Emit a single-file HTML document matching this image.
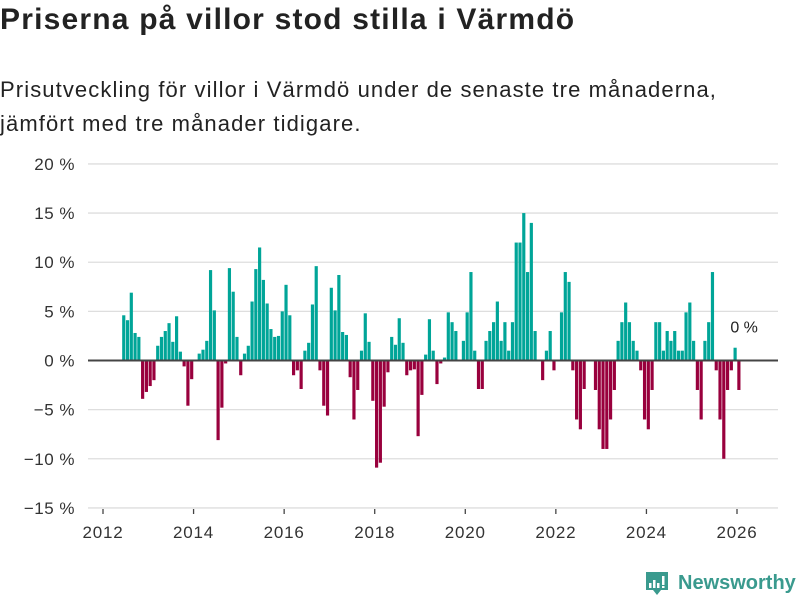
<!DOCTYPE html>
<html><head><meta charset="utf-8">
<style>
body{margin:0;background:#fff;width:800px;height:600px;overflow:hidden;font-family:"Liberation Sans","DejaVu Sans",sans-serif;color:#222}
h1{position:absolute;left:0;top:3px;margin:0;font-size:30px;font-weight:bold;letter-spacing:1.2px}
.sub{position:absolute;left:0;top:73px;margin:0;font-size:22px;line-height:34px;color:#222;letter-spacing:1.1px}
svg{position:absolute;left:0;top:0}
</style></head><body>
<h1>Priserna på villor stod stilla i Värmdö</h1>
<p class="sub">Prisutveckling för villor i Värmdö under de senaste tre månaderna,<br>jämfört med tre månader tidigare.</p>
<svg id="chart" width="800" height="600"></svg>
<script>
const startYear = 2012, startMonth = 5; // June 2012 (0-based month)
const values = [
4.6,4.1,6.9,2.8,2.4,-3.9,-3.2,-2.6,-2.0,1.5,2.4,3.0,3.8,1.9,4.5,0.9,-0.6,-4.6,-1.9,0,0.7,1.1,2.0,9.2,5.1,-8.1,-4.8,-0.3,9.4,7.0,2.4,-1.5,0.7,1.5,6.0,9.3,11.5,8.2,5.8,3.2,2.4,2.5,5.0,
7.7,4.6,-1.5,-1.0,-2.9,1.0,1.8,5.7,9.6,-1.0,-4.6,-5.6,7.4,5.1,8.7,2.9,2.6,-1.7,-6.0,-3.0,1.0,4.8,1.9,-4.1,-10.9,-10.4,-4.7,-1.2,2.4,1.6,4.3,1.8,-1.5,-1.0,-0.9,-7.7,-3.5,0.6,4.2,1.0,-2.4,-0.3,
0.3,4.9,3.9,3.0,0,2.0,4.9,9.0,1.0,-2.9,-2.9,2.0,3.0,3.9,6.0,2.0,3.9,1.0,3.9,12,12,15,9,14,3.0,0,-2.0,1.0,3.0,-1.0,0,4.9,9.0,8.0,-1.0,-6.0,-7.0,-2.9,0,0,
-3.0,-7.0,-9,-9,-6,-3,2,3.9,5.9,3.9,2,1,-1,-6,-7,-3,3.9,3.9,1,3,2,3,1,1,4.9,5.9,2,-3,-6,2,3.9,9,-1,-6,-10,-3,-1,1.3,-3
];
const yTicks = [20,15,10,5,0,-5,-10,-15];
const yTickLabels = ["20 %","15 %","10 %","5 %","0 %","−5 %","−10 %","−15 %"];
const xTicks = [2012,2014,2016,2018,2020,2022,2024,2026];
const annotation = "0 %";

const NS="http://www.w3.org/2000/svg";
const svg=document.getElementById('chart');
const X0=88,X1=778;
function xScale(yr){return 103+(yr-2012)*(737-103)/14;}
function yScale(v){return 360.5-v*(508-164)/35;}
function mk(tag,attrs){const e=document.createElementNS(NS,tag);for(const k in attrs)e.setAttribute(k,attrs[k]);svg.appendChild(e);return e;}

yTicks.forEach((t,i)=>{
  const g=mk('line',{x1:X0,x2:X1,y1:yScale(t),y2:yScale(t),stroke:'#dedede','stroke-width':1.3});
  
  
  const tx=mk('text',{x:75,y:yScale(t)+6,'text-anchor':'end','font-size':17,fill:'#333','letter-spacing':0.5});
  tx.textContent=yTickLabels[i];
  
  
});
xTicks.forEach(t=>{
  const l=mk('line',{x1:xScale(t),x2:xScale(t),y1:509,y2:514,stroke:'#444','stroke-width':1.3});
  
  
  const tx=mk('text',{x:xScale(t),y:538,'text-anchor':'middle','font-size':17,fill:'#333','letter-spacing':0.8});
  tx.textContent=t;
  
  
});
const mw=(xScale(2013)-xScale(2012))/12;
values.forEach((v,i)=>{
  if(v===0)return;
  const m=startMonth+i;
  const cx=xScale(startYear+(m+0.5)/12);
  const y0=yScale(0),y1=yScale(v);
  const r=mk('rect',{x:cx-mw/2+0.3,width:mw-0.6,y:Math.min(y0,y1),height:Math.abs(y1-y0),fill:v>0?'#00a598':'#99003d'});
  
  
});
const z=mk('line',{x1:X0,x2:X1,y1:yScale(0),y2:yScale(0),stroke:'#444','stroke-width':2});


const lastI=values.length-2;
const ax=xScale(startYear+(startMonth+lastI+0.5)/12);
const an=mk('text',{x:ax+9,y:yScale(values[lastI])-15,'text-anchor':'middle','font-size':16,fill:'#222'});
an.textContent=annotation;


</script>
<svg width="800" height="600" style="pointer-events:none">
  <path d="M646 572 h22 v18 h-7 l-4 5 l-4 -5 h-7 z" fill="#3a9a8e"/>
  <rect x="649" y="583" width="2.5" height="5" fill="#fff"/>
  <rect x="653" y="580" width="2.5" height="8" fill="#fff"/>
  <rect x="657" y="583" width="2.5" height="5" fill="#fff"/>
  <rect x="662" y="576" width="2.5" height="9" fill="#fff"/>
  <rect x="662" y="586" width="2.5" height="2" fill="#fff"/>
  <text x="678" y="589" font-size="20" font-weight="bold" fill="#3a9a8e" font-family="Liberation Sans, sans-serif">Newsworthy</text>
</svg>
</body></html>
